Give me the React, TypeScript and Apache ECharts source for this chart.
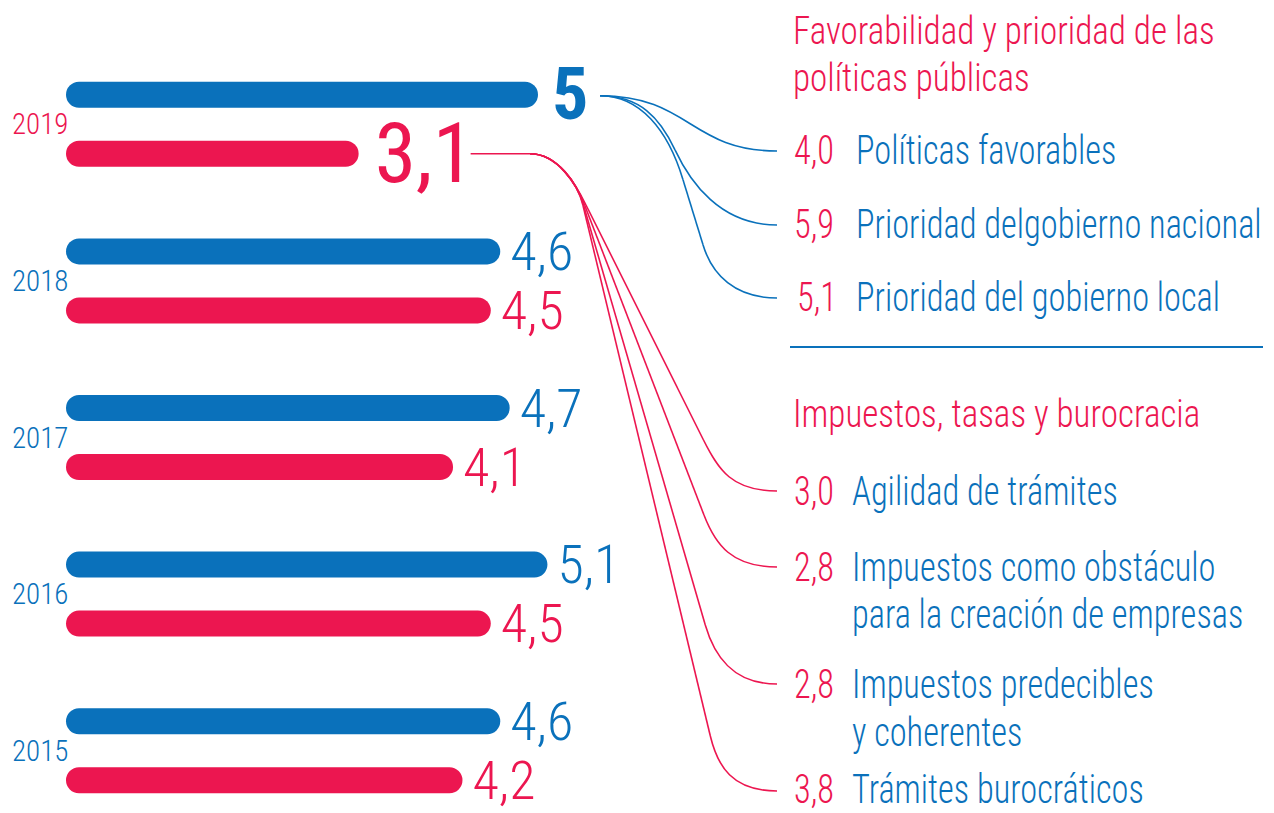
import React, { useEffect, useRef } from "react";
import * as echarts from "echarts";

// ---- data ----
const years = ["2019", "2018", "2017", "2016", "2015"];
const favorabilidad = [5, 4.6, 4.7, 5.1, 4.6]; // blue bars
const impuestos = [3.1, 4.5, 4.1, 4.5, 4.2]; // red bars

const policyTitle = ["Favorabilidad y prioridad de las", "políticas públicas"];
const policyValues = ["4,0", "5,9", "5,1"];
const policyItems = ["Políticas favorables", "Prioridad delgobierno nacional", "Prioridad del gobierno local"];

const taxTitle = "Impuestos, tasas y burocracia";
const taxValues = ["3,0", "2,8", "2,8", "3,8"];
const taxItems = [
  ["Agilidad de trámites"],
  ["Impuestos como obstáculo", "para la creación de empresas"],
  ["Impuestos predecibles", "y coherentes"],
  ["Trámites burocráticos"],
];

// ---- style ----
const BLUE = "#0a71bb";
const RED = "#ec1650";
const FONT = "'Roboto Condensed', Roboto, sans-serif";

const fmt = (v: number) => (Number.isInteger(v) ? String(v) : v.toFixed(1).replace(".", ","));

function txt(text: string, x: number, y: number, color: string, size = 40, sx = 0.86) {
  return {
    type: "text",
    x,
    y,
    scaleX: sx,
    style: {
      text,
      fill: color,
      fontSize: size,
      fontFamily: FONT,
      fontWeight: 300,
      lineHeight: 34,
      align: "left",
      verticalAlign: "middle",
      textAlign: "left",
      textVerticalAlign: "middle",
    },
  };
}

export default function App() {
  const ref = useRef<HTMLDivElement>(null);
  useEffect(() => {
    document.body.style.margin = "0";
    document.body.style.overflow = "hidden";
    document.documentElement.style.overflow = "hidden";
    const chart = echarts.init(ref.current!, null, { renderer: "svg" });
    const GRID_TOP = 46;
    const GRID_H = 783;
    const BAR_W = 26;
    const GAP = 33;
    chart.setOption({
      animation: false,
      grid: { left: 66, top: GRID_TOP, width: 566.4, height: GRID_H, containLabel: false },
      xAxis: { type: "value", min: 0, max: 6, show: false },
      yAxis: {
        type: "category",
        data: years,
        inverse: true,
        axisLine: { show: false },
        axisTick: { show: false },
        axisLabel: {
          align: "left",
          margin: 54,
          fontSize: 29,
          fontFamily: FONT,
          fontWeight: 300,
          color: (_v: string, i: number) => (i === 0 ? RED : BLUE),
        },
      },
      series: [
        {
          type: "bar",
          name: "blue",
          data: favorabilidad.map((v, i) =>
            i === 0
              ? { value: v, label: { fontSize: 72, fontWeight: 700, distance: 14 } }
              : { value: v }
          ),
          barWidth: BAR_W,
          barGap: (GAP / BAR_W) * 100 + "%",
          itemStyle: { color: BLUE, borderRadius: BAR_W / 2 },
          label: {
            show: true,
            position: "right",
            distance: 10,
            color: BLUE,
            fontSize: 54,
            fontWeight: 300,
            fontFamily: FONT,
            formatter: (p: any) => fmt(p.value),
          },
        },
        {
          type: "bar",
          name: "red",
          data: impuestos.map((v, i) =>
            i === 0 ? { value: v, label: { fontSize: 84, fontWeight: 400, distance: 16 } } : { value: v }
          ),
          barWidth: BAR_W,
          itemStyle: { color: RED, borderRadius: BAR_W / 2 },
          label: {
            show: true,
            position: "right",
            distance: 10,
            color: RED,
            fontSize: 54,
            fontWeight: 300,
            fontFamily: FONT,
            formatter: (p: any) => fmt(p.value),
          },
        },
      ],
    });

    // connectors anchored on the 2019 bars
    const band = GRID_H / years.length;
    const catC = GRID_TOP + band / 2;
    const off = (BAR_W + GAP) / 2;
    const blueY = catC - off;
    const redY = catC + off;
    const blueX = chart.convertToPixel({ xAxisIndex: 0 }, favorabilidad[0]) as number;
    const redX = chart.convertToPixel({ xAxisIndex: 0 }, impuestos[0]) as number;

    const END_X = 777;
    const lineStyle = (c: string) => ({ stroke: c, lineWidth: 1.6, fill: null });
    const bz = (c: string, x1: number, y1: number, cx1: number, cy1: number, cx2: number, cy2: number, x2: number, y2: number) => ({
      type: "bezierCurve",
      shape: { x1, y1, cpx1: cx1, cpy1: cy1, cpx2: cx2, cpy2: cy2, x2, y2 },
      style: lineStyle(c),
    });
    const ln = (c: string, x1: number, y1: number, x2: number, y2: number) => ({
      type: "line",
      shape: { x1, y1, x2, y2 },
      style: lineStyle(c),
    });

    const policyY = [151, 225, 298];
    const sx = blueX + 62;
    const sy = blueY + 1;
    const blueLines: any[] = [
      bz(BLUE, sx, sy, sx + 90, sy, sx + 90, policyY[0], END_X, policyY[0]),
      bz(BLUE, sx, sy, sx + 40, sy, sx + 60, sy + 22, sx + 75, sy + 54),
      bz(BLUE, sx + 75, sy + 54, sx + 90, sy + 86, sx + 120, policyY[1], END_X, policyY[1]),
      bz(BLUE, sx, sy, sx + 40, sy, sx + 68, sy + 34, sx + 83, sy + 84),
      ln(BLUE, sx + 83, sy + 84, sx + 103, sy + 149),
      bz(BLUE, sx + 103, sy + 149, sx + 112, sy + 179, sx + 135, policyY[2], END_X, policyY[2]),
    ];

    const taxY = [491, 567, 684, 791];
    const taxSlope = [0.5, 0.385, 0.29, 0.24];
    const taxKnee = [440, 515, 625, 736];
    const rStart = redX + 112;
    const BX = 530;
    const redLines: any[] = [ln(RED, rStart, redY, BX, redY)];
    taxY.forEach((ey, i) => {
      const s = taxSlope[i];
      const lx = (y: number) => 580 + s * (y - 193);
      const qy = 205;
      const qx = lx(qy);
      redLines.push(bz(RED, BX, redY, BX + 28, redY, qx - s * 20, qy - 20, qx, qy));
      const ky = taxKnee[i];
      const kx = lx(ky);
      redLines.push(ln(RED, qx, qy, kx, ky));
      redLines.push(bz(RED, kx, ky, kx + s * 30, ky + 30, END_X - 45, ey, END_X, ey));
    });

    const texts: any[] = [];
    texts.push(txt(policyTitle[0], 793, 31, RED, 39, 0.9));
    texts.push(txt(policyTitle[1], 793, 78, RED, 39, 0.9));
    policyValues.forEach((v, i) => {
      texts.push(txt(v, i === 2 ? 797 : 794, policyY[i] - 1, RED));
      texts.push(txt(policyItems[i], 856, policyY[i] - 1, BLUE));
    });
    texts.push({
      type: "line",
      shape: { x1: 790, y1: 347, x2: 1263, y2: 347 },
      style: { stroke: BLUE, lineWidth: 2 },
    });
    texts.push(txt(taxTitle, 793, 414, RED, 39, 0.9));
    const secondLine = [0, 614, 732, 0];
    taxValues.forEach((v, i) => {
      const ty = i === 3 ? 789 : taxY[i];
      texts.push(txt(v, 794, ty, RED));
      texts.push(txt(taxItems[i][0], 852, ty, BLUE));
      if (taxItems[i][1]) texts.push(txt(taxItems[i][1], 852, secondLine[i], BLUE));
    });

    chart.setOption({ graphic: [...blueLines, ...redLines, ...texts] });
    return () => chart.dispose();
  }, []);
  return <div ref={ref} style={{ width: 1274, height: 860 }} />;
}
